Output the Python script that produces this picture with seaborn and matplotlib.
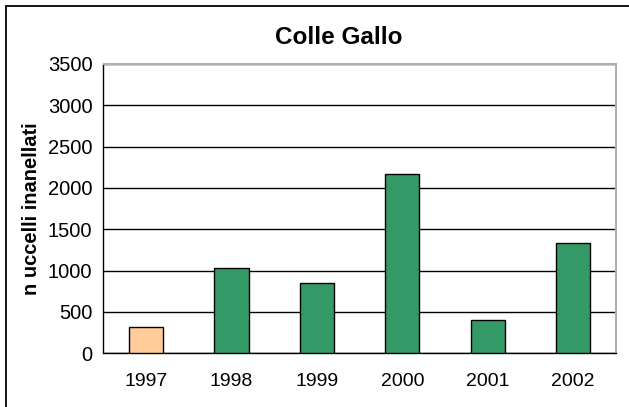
import matplotlib
matplotlib.use("Agg")
import matplotlib.pyplot as plt
import seaborn as sns
import pandas as pd
from matplotlib.patches import Rectangle

years = ["1997", "1998", "1999", "2000", "2001", "2002"]
values = [318, 1030, 848, 2170, 408, 1332]
colors = ["#FFCC99", "#339966", "#339966", "#339966", "#339966", "#339966"]
yticks = [0, 500, 1000, 1500, 2000, 2500, 3000, 3500]

sns.set_style("white")
plt.rcParams['font.family'] = ['Liberation Sans', 'DejaVu Sans']
plt.rcParams['text.color'] = 'black'
plt.rcParams['axes.labelcolor'] = 'black'
plt.rcParams['xtick.color'] = 'black'
plt.rcParams['ytick.color'] = 'black'

W, H = 629, 407
fig = plt.figure(figsize=(W / 100, H / 100), dpi=100)
ax = fig.add_axes([103.5 / W, 1 - 353.3 / H, (615.7 - 103.5) / W, (353.3 - 64) / H])

df = pd.DataFrame({"year": years, "n": values})
sns.barplot(data=df, x="year", y="n", hue="year", palette=colors, legend=False,
            saturation=1, width=0.4, edgecolor="black", linewidth=1, ax=ax, zorder=3)

ax.set_ylim(0, 3500)
ax.set_xlim(-0.5, 5.5)
ax.set_yticks(yticks)
ax.set_yticklabels([str(t) for t in yticks], fontsize=14.5)
ax.set_xticks(range(len(years)))
ax.set_xticklabels(years, fontsize=14)
ax.tick_params(axis="x", length=0, pad=14)
ax.tick_params(axis="y", length=5, width=1, color="black", direction="out", pad=3)
ax.set_xticks([i - 0.5 for i in range(len(years) + 1)], minor=True)
ax.tick_params(axis="x", which="minor", length=6, width=1, color="black", direction="out")

ax.yaxis.grid(True, color="black", linewidth=1, zorder=0)
ax.set_axisbelow(True)
for s in ["left", "bottom"]:
    ax.spines[s].set_color("black")
    ax.spines[s].set_linewidth(1)
for s in ["top", "right"]:
    ax.spines[s].set_color("#b0b0b0")
    ax.spines[s].set_linewidth(1.5)

ax.set_xlabel("")
ax.set_ylabel("n uccelli inanellati", fontsize=14.5, fontweight="bold", labelpad=2)
ax.yaxis.set_label_coords(-(103.5 - 41) / (615.7 - 103.5), 0.5)
fig.text(339 / W, 1 - 38 / H, "Colle Gallo", ha="center", va="center",
         fontsize=17.5, fontweight="bold")

fig.patches.append(Rectangle((6 / W, -0.1), 1.2, 1 - 6 / H + 0.1, transform=fig.transFigure,
                             fill=False, edgecolor="black", linewidth=1.3))

fig.savefig("out.png", dpi=100)
